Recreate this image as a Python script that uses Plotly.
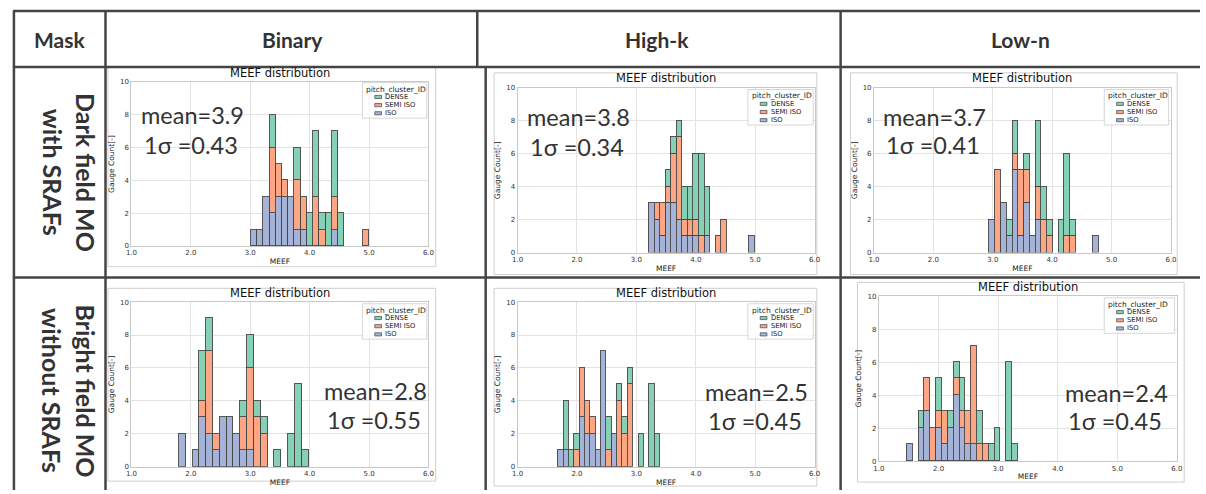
import plotly.graph_objects as go

W, H = 1206, 494

# ---------------- data ----------------
mask_types = ["Binary", "High-k", "Low-n"]
row_labels = [("Dark field MO", "with SRAFs"), ("Bright field MO", "without SRAFs")]
categories = ["DENSE", "SEMI ISO", "ISO"]

# first / last bin edge of each histogram (19 bins each), order: row1 B,H,L ; row2 B,H,L
bin_start = [3.017, 3.206, 2.944, 1.806, 1.678, 1.467]
bin_end = [5.010, 4.983, 4.789, 3.989, 3.389, 3.333]

iso_counts = [
    [1, 1, 3, 2, 3, 3, 3, 1, 1, 0, 0, 0, 0, 1, 0, 0, 0, 0, 0],
    [3, 2, 1, 3, 3, 2, 1, 1, 1, 0, 1, 0, 0, 0, 0, 0, 0, 0, 1],
    [2, 0, 3, 1, 5, 1, 3, 1, 2, 0, 0, 0, 0, 0, 0, 0, 0, 0, 1],
    [2, 0, 1, 3, 2, 1, 3, 3, 2, 1, 1, 0, 0, 0, 0, 0, 0, 0, 0],
    [1, 1, 0, 0, 3, 2, 2, 1, 7, 0, 2, 0, 0, 0, 0, 0, 0, 0, 0],
    [1, 0, 2, 3, 0, 2, 1, 2, 4, 2, 1, 1, 0, 0, 0, 0, 0, 0, 0],
]
semi_iso_counts = [
    [0, 0, 0, 4, 2, 1, 0, 3, 2, 0, 3, 1, 0, 2, 0, 0, 0, 0, 1],
    [0, 1, 2, 1, 3, 5, 1, 1, 1, 1, 0, 0, 1, 2, 0, 0, 0, 0, 0],
    [0, 5, 0, 0, 1, 4, 2, 0, 2, 2, 1, 0, 0, 1, 1, 0, 0, 0, 0],
    [0, 0, 0, 1, 5, 1, 0, 0, 0, 2, 5, 3, 2, 0, 0, 0, 0, 0, 0],
    [0, 0, 0, 1, 3, 2, 1, 0, 0, 1, 0, 4, 2, 5, 0, 0, 0, 0, 0],
    [0, 0, 0, 2, 2, 1, 2, 0, 1, 1, 2, 6, 1, 1, 0, 0, 0, 0, 0],
]
dense_counts = [
    [0, 0, 0, 2, 0, 0, 0, 2, 0, 2, 4, 1, 2, 4, 2, 0, 0, 0, 0],
    [0, 0, 0, 1, 1, 1, 2, 2, 4, 5, 3, 0, 0, 0, 0, 0, 0, 0, 0],
    [0, 0, 0, 1, 2, 0, 1, 0, 4, 2, 1, 0, 2, 5, 1, 0, 0, 0, 0],
    [0, 0, 0, 3, 2, 0, 0, 0, 0, 1, 2, 1, 1, 0, 1, 0, 2, 5, 1],
    [0, 3, 1, 1, 0, 0, 0, 0, 0, 2, 0, 1, 1, 1, 0, 2, 0, 5, 2],
    [0, 0, 1, 0, 0, 2, 0, 1, 1, 2, 0, 0, 2, 0, 1, 2, 0, 6, 1],
]
mean_vals = [3.9, 3.8, 3.7, 2.8, 2.5, 2.4]
sigma_vals = [0.43, 0.34, 0.41, 0.55, 0.45, 0.45]
x_ticks = [1.0, 2.0, 3.0, 4.0, 5.0, 6.0]
y_ticks = [0, 2, 4, 6, 8, 10]

# ---------------- layout geometry (pixels) ----------------
colors = {"DENSE": "#86d0b6", "SEMI ISO": "#fca683", "ISO": "#a4b3d7"}
edge = "rgba(70,70,70,0.9)"
plot_boxes = [  # x0, x1, y_top, y_bottom (pixels)
    (126.7, 426.7, 79.3, 246.0),
    (516.7, 816.7, 85.3, 252.7),
    (876.7, 1176.7, 85.3, 252.7),
    (126.7, 426.7, 303.0, 470.3),
    (516.7, 816.7, 303.0, 470.3),
    (881.7, 1182.7, 297.0, 464.7),
]
frames = [
    (103, 64, 434, 267), (493, 70, 819, 275), (853, 70, 1183, 275),
    (103, 289, 434, 485), (493, 289, 819, 490), (860, 283, 1190, 486),
]
legend_pos = [(360, 80, 65), (749.3, 87, 66), (1109.3, 87, 65),
              (360, 304.7, 65), (749.3, 304.7, 66), (1109.3, 298.7, 71)]
stat_pos = [  # mean text (left x, center y), sigma text (left x, center y)
    ((134, 113), (137, 143)), ((524, 115), (527, 145)), ((884, 115), (887, 143)),
    ((319, 393), (322, 423)), ((704, 394), (707, 424)), ((1068, 395), (1071, 424)),
]


def px(x):
    return x / W


def py(y):
    return 1 - y / H


fig = go.Figure()
shapes = []
annotations = []


def note(text, x, y, font, xanchor="center", yanchor="middle", **kw):
    annotations.append(dict(text=text, xref="paper", yref="paper", x=px(x), y=py(y),
                            xanchor=xanchor, yanchor=yanchor, showarrow=False, font=font, **kw))


for k in range(6):
    n = len(iso_counts[k])
    w = (bin_end[k] - bin_start[k]) / n
    centers = [bin_start[k] + (i + 0.5) * w for i in range(n)]
    xa = "x" if k == 0 else f"x{k+1}"
    ya = "y" if k == 0 else f"y{k+1}"
    for name, vals in (("ISO", iso_counts[k]), ("SEMI ISO", semi_iso_counts[k]), ("DENSE", dense_counts[k])):
        fig.add_trace(go.Bar(
            x=centers, y=[v if v else None for v in vals], width=w,
            name=name, showlegend=False, xaxis=xa, yaxis=ya,
            marker=dict(color=colors[name], line=dict(color=edge, width=1)),
            hoverinfo="x+y+name",
        ))
    x0, x1, yt, yb = plot_boxes[k]
    axis_common = dict(showgrid=True, gridcolor="#e3e3e3", gridwidth=1, zeroline=False,
                       showline=True, linecolor="#c8c8c8", linewidth=1, mirror=True,
                       ticks="", tickfont=dict(family="DejaVu Sans", size=7, color="#333"),
                       fixedrange=True)
    fig.layout[f"xaxis{'' if k == 0 else k+1}"] = dict(
        domain=[px(x0), px(x1)], anchor=ya, range=[1, 6], tickvals=x_ticks,
        ticktext=[f"{v:.1f}" for v in x_ticks],
        title=dict(text="MEEF", font=dict(family="DejaVu Sans", size=7.5, color="#222"), standoff=2),
        **axis_common)
    fig.layout[f"yaxis{'' if k == 0 else k+1}"] = dict(
        domain=[py(yb), py(yt)], anchor=xa, range=[0, 10], tickvals=y_ticks,
        title=dict(text="Gauge Count[-]", font=dict(family="DejaVu Sans", size=7.5, color="#222"), standoff=4),
        **axis_common)

    # image frame
    fx0, fy0, fx1, fy1 = frames[k]
    shapes.append(dict(type="rect", xref="paper", yref="paper", x0=px(fx0), x1=px(fx1),
                       y0=py(fy1), y1=py(fy0), line=dict(color="#cfcfcf", width=1), layer="below"))
    # subplot title
    note("MEEF distribution", (x0 + x1) / 2, yt - 0.5, dict(family="DejaVu Sans", size=11.5, color="#111"),
         yanchor="bottom")
    # legend (drawn as in the seaborn figure)
    lx, ly, lw = legend_pos[k]
    shapes.append(dict(type="rect", xref="paper", yref="paper", x0=px(lx), x1=px(lx + lw),
                       y0=py(ly + 36), y1=py(ly), line=dict(color="#d6d6d6", width=1),
                       fillcolor="rgba(255,255,255,0.85)"))
    note("pitch_cluster_ID", lx + 2, ly + 6.5, dict(family="DejaVu Sans", size=7.5, color="#222"),
         xanchor="left")
    for j, cat in enumerate(categories):
        cy = ly + 14.5 + j * 8.3
        shapes.append(dict(type="rect", xref="paper", yref="paper", x0=px(lx + 12.5), x1=px(lx + 19.3),
                           y0=py(cy + 1.6), y1=py(cy - 1.6), fillcolor=colors[cat],
                           line=dict(color=edge, width=0.8)))
        note(cat, lx + 21, cy, dict(family="DejaVu Sans", size=6.8, color="#222"), xanchor="left")
    # statistics text
    (mx, my), (sx, sy) = stat_pos[k]
    stat_font = dict(family="Lato", size=23.5, color="#333")
    note(f"mean={mean_vals[k]}", mx, my, stat_font, xanchor="left")
    note(f"1σ ={sigma_vals[k]:.2f}", sx, sy, stat_font, xanchor="left")

# ---------------- table ----------------
line_col = "#454545"
lw_t = 2.5


def hline(y, x0, x1):
    shapes.append(dict(type="line", xref="paper", yref="paper", x0=px(x0), x1=px(x1), y0=py(y), y1=py(y),
                       line=dict(color=line_col, width=lw_t)))


def vline(x, y0, y1):
    shapes.append(dict(type="line", xref="paper", yref="paper", x0=px(x), x1=px(x), y0=py(y0), y1=py(y1),
                       line=dict(color=line_col, width=lw_t)))


hline(7, 7, W)
hline(64, 7, W)
hline(278, 7, W)
vline(8, 7, H)
vline(100.5, 7, H)
vline(476, 7, 64)
vline(484.5, 64, H)
vline(843, 7, H)

hdr_font = dict(family="Lato", size=21, color="#333")
note("<b>Mask</b>", 54, 36, hdr_font)
for name, cx in zip(mask_types, [289, 658, 1025]):
    note(f"<b>{name}</b>", cx, 36, hdr_font)
row_font = dict(family="Lato", size=25, color="#333")
for (l1, l2), cy in zip(row_labels, [171, 393]):
    note(f"<b>{l1}</b>", 81, cy, row_font, textangle=90)
    note(f"<b>{l2}</b>", 47, cy, row_font, textangle=90)

fig.update_layout(
    width=W, height=H, margin=dict(l=0, r=0, t=0, b=0),
    paper_bgcolor="white", plot_bgcolor="white",
    barmode="stack", bargap=0, showlegend=False,
    shapes=shapes, annotations=annotations,
)
fig.write_html("out.html", include_plotlyjs=True, config={"displayModeBar": False})
